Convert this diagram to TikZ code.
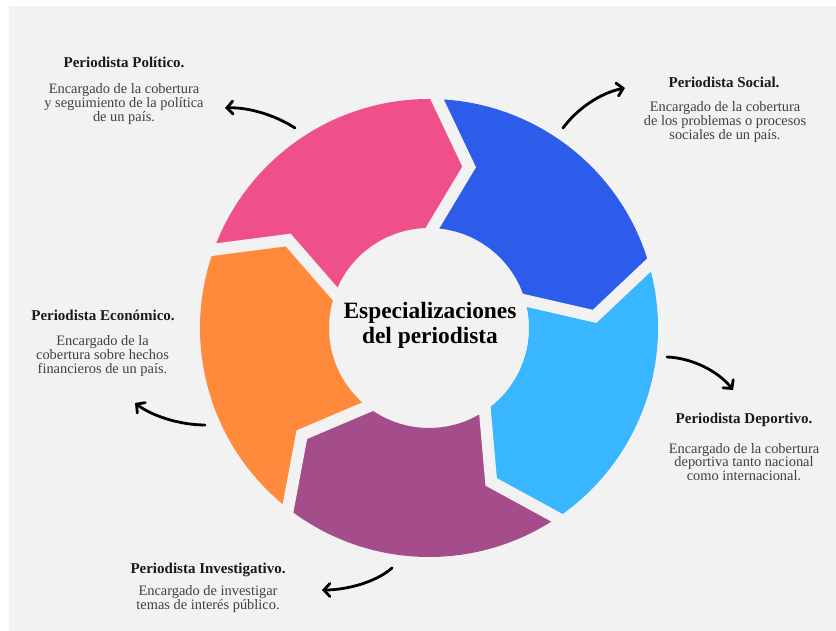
\documentclass[tikz,border=0pt]{standalone}
\usepackage{fontspec}
\setmainfont{Liberation Serif}
\usetikzlibrary{arrows.meta,calc}
\definecolor{bg}{HTML}{F2F2F2}
\definecolor{cpink}{HTML}{F0508A}
\definecolor{cblue}{HTML}{2D5BEA}
\definecolor{clblue}{HTML}{38B6FF}
\definecolor{cpurple}{HTML}{A54C8B}
\definecolor{corange}{HTML}{FF8A3C}
\definecolor{bodytext}{HTML}{404040}
\tikzset{
  ttl/.style={font=\fontsize{15}{16}\selectfont\bfseries, text=black!90, inner sep=0pt},
  body/.style={font=\fontsize{14.4}{13.6}\selectfont, text=bodytext, align=center, inner sep=0pt},
  conn/.style={line width=2.8pt, line cap=round, -{Straight Barb[length=6pt,width=13pt,line cap=round]}},
  gapline/.style={bg, line width=12pt, line join=miter}
}
\begin{document}
\begin{tikzpicture}[x=1pt,y=1pt]
\useasboundingbox (0,0) rectangle (836,631);
\fill[white] (0,0) rectangle (836,631);
\fill[bg] (9,0) rectangle (836,625);
\begin{scope}[shift={(429,303)}]
  \foreach \a/\c in {160/cpink, 88/cblue, 16/clblue, -56/cpurple, 232/corange} {
    \pgfmathsetmacro\b{\a-72}
    \fill[\c] (\a:229) arc[start angle=\a, end angle=\b, radius=229]
      -- (\b-12:166) -- (\b:100) arc[start angle=\b, end angle=\a, radius=100]
      -- (\a-12:166) -- cycle;
  }
  \foreach \a in {88,16,-56,-128,-200} {
    \draw[gapline] ($(\a-12:166)!1.3!(\a:100)$) -- (\a-12:166) -- ($(\a-12:166)!1.3!(\a:229)$);
  }
\end{scope}

\node[font=\fontsize{23.4}{25}\selectfont\bfseries, align=center, inner sep=0pt] (ctr) at (430,305.5) {Especializaciones\\del periodista};

\node[ttl] (polt) at (124,569) {Periodista Político.};
\node[body] (polb) at (124,527) {Encargado de la cobertura\\y seguimiento de la política\\de un país.};

\node[ttl] (soct) at (724,549) {Periodista Social.};
\node[body] (socb) at (725,509) {Encargado de la cobertura\\de los problemas o procesos\\sociales de un país.};

\node[ttl] (ecot) at (103,316) {Periodista Económico.};
\node[body] (ecob) at (102.5,275) {Encargado de la\\cobertura sobre hechos\\financieros de un país.};

\node[ttl] (dept) at (744,211) {Periodista Deportivo.};
\node[body] (depb) at (744,169) {Encargado de la cobertura\\deportiva tanto nacional\\como internacional.};

\node[ttl] (invt) at (208,61) {Periodista Investigativo.};
\node[body] (invb) at (208,32) {Encargado de investigar\\temas de interés público.};

\coordinate (pa1) at (295,503);
\coordinate (pa2) at (225,523);
\coordinate (sa1) at (563,503);
\coordinate (sa2) at (625,543);
\coordinate (da1) at (667,274);
\coordinate (da2) at (733,241);
\coordinate (ea1) at (205,206);
\coordinate (ea2) at (135,228);
\coordinate (ia1) at (392,63);
\coordinate (ia2) at (322,41);

\draw[conn] (pa1) .. controls (275,516) and (248,524) .. (pa2);
\draw[conn] (sa1) .. controls (577,522) and (600,538) .. (sa2);
\draw[conn] (da1) .. controls (692,273) and (718,260) .. (da2);
\draw[conn] (ea1) .. controls (180,206) and (152,215) .. (ea2);
\draw[conn] (ia1) .. controls (375,48) and (345,41) .. (ia2);
\end{tikzpicture}
\end{document}
